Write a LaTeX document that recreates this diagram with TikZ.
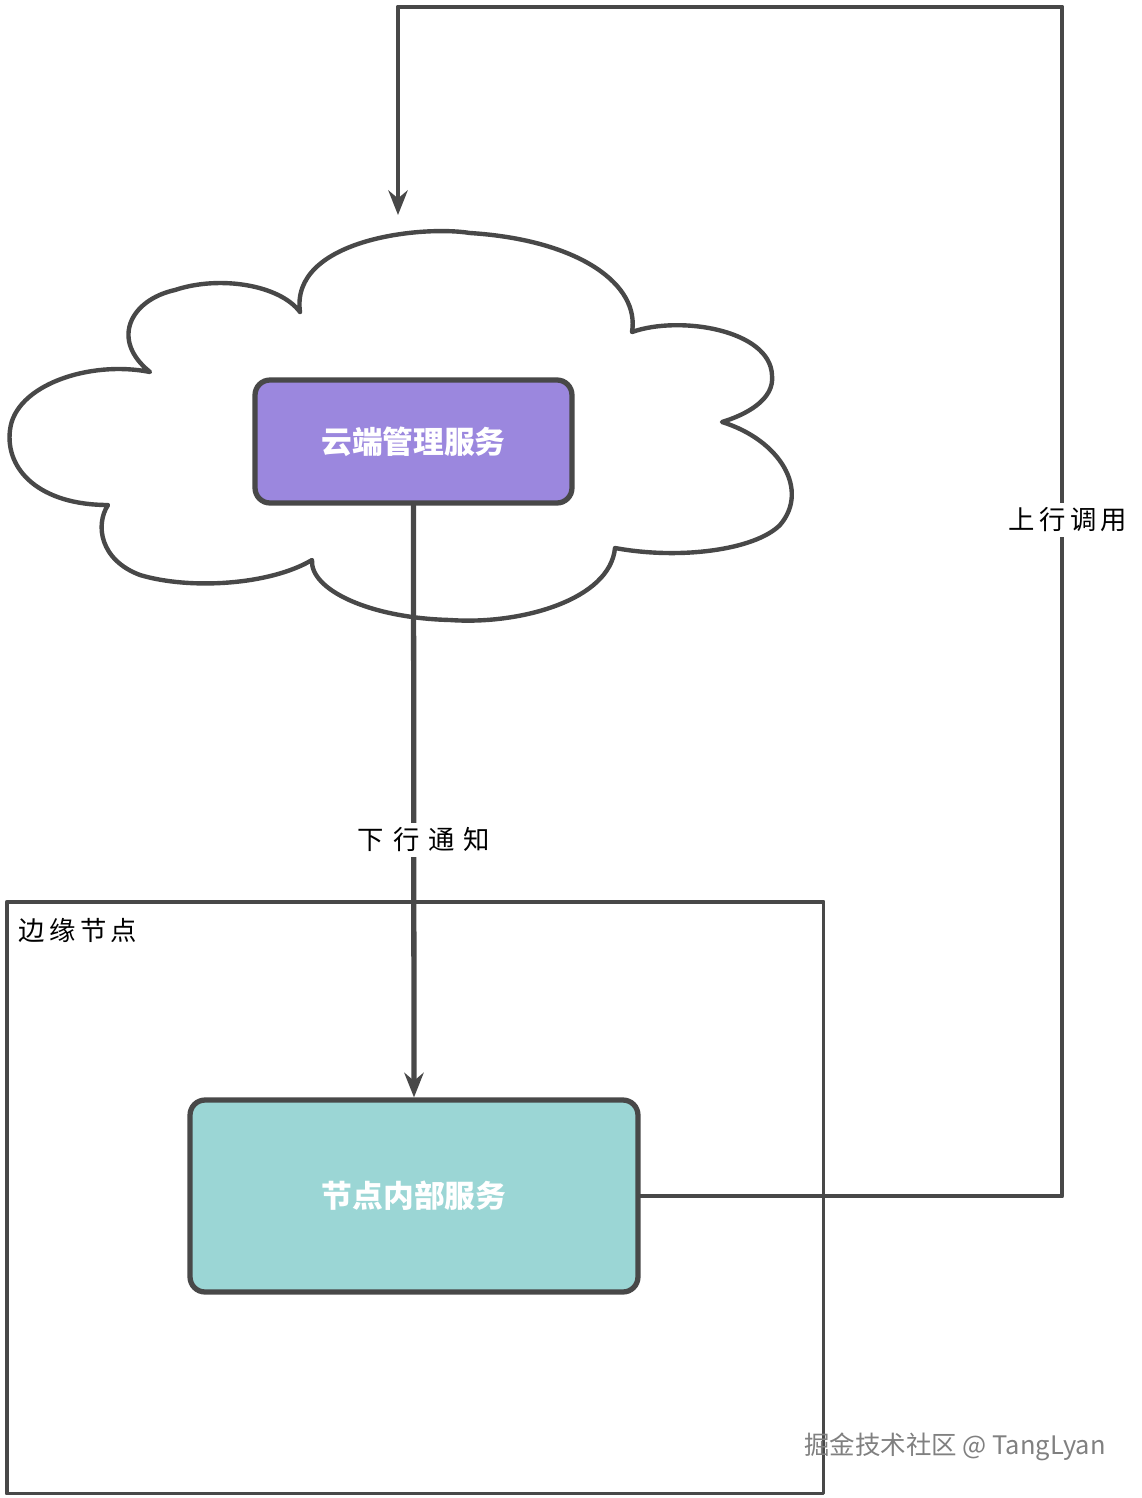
\documentclass[tikz,border=0pt]{standalone}
\usepackage{fontspec}
\setmainfont{Noto Sans CJK SC}
\usetikzlibrary{arrows.meta}
\definecolor{zi}{RGB}{155,135,222}
\definecolor{qing}{RGB}{155,214,213}
\definecolor{xian}{RGB}{72,72,72}
\tikzset{
	fuwu/.style={draw=xian,line width=3pt,rounded corners=0.3cm,text=white,font=\fontsize{17.5}{20}\selectfont\bfseries},
	biaoqian/.style={fill=white,inner sep=3pt,font=\fontsize{15}{17}\selectfont},
}
\begin{document}
\begin{tikzpicture}[x=0.02cm,y=-0.02cm,line join=round,line cap=round,>={Stealth[length=14pt,width=11pt]},thick]
	\useasboundingbox (0,0) rectangle (1142,1498);
	%	cloud
	\draw[xian,line width=2.5pt,fill=white] (300,312)
	.. controls (290,240) and (420,225) .. (470,233)
	.. controls (580,240) and (640,285) .. (632,332)
	.. controls (680,315) and (770,330) .. (772,375)
	.. controls (775,400) and (745,415) .. (722,422)
	.. controls (780,440) and (810,490) .. (780,525)
	.. controls (755,550) and (680,560) .. (615,548)
	.. controls (610,600) and (520,625) .. (450,620)
	.. controls (370,618) and (310,590) .. (312,560)
	.. controls (270,585) and (190,590) .. (140,575)
	.. controls (100,560) and (95,525) .. (108,505)
	.. controls (40,505) and (5,470) .. (10,430)
	.. controls (15,385) and (90,360) .. (150,372)
	.. controls (110,340) and (130,300) .. (175,290)
	.. controls (220,275) and (280,285) .. (300,312);
	\node[draw=xian,line width=2pt,minimum width=16.34cm,minimum height=11.84cm,anchor=north west] (bianyuan) at (5,900) {};
	\node[anchor=north west,font=\fontsize{15}{17}\selectfont,inner sep=0pt] (bianyuanzi) at (18,918) {边\,缘\,节\,点};
	\node[fuwu,fill=zi,minimum width=6.34cm,minimum height=2.46cm] (yun) at (413.5,441.5) {云端管理服务};
	\node[fuwu,fill=qing,minimum width=8.96cm,minimum height=3.84cm] (jiedian) at (414,1196) {节点内部服务};
	\path
	(1062,7) coordinate (youshang)
	(398,7) coordinate (zuoshang)
	(398,215) coordinate (jiantou);
	\draw[->,xian,line width=3pt] (yun.south) -- (jiedian.north) node[pos=0.565,biaoqian,text=black,xshift=0.2cm] (xiaxing) {下\,\,行\,\,通\,\,知};
	\draw[->,xian,line width=2.8pt] (jiedian.east) -| (youshang) -- (zuoshang) -- (jiantou);
	\node[biaoqian] (shangxing) at (1068,520) {上\,行\,调\,用};
	\node[text=black!50,font=\fontsize{14.5}{17}\selectfont] (shuiyin) at (955,1447) {掘金技术社区 @ TangLyan};
\end{tikzpicture}
\end{document}
